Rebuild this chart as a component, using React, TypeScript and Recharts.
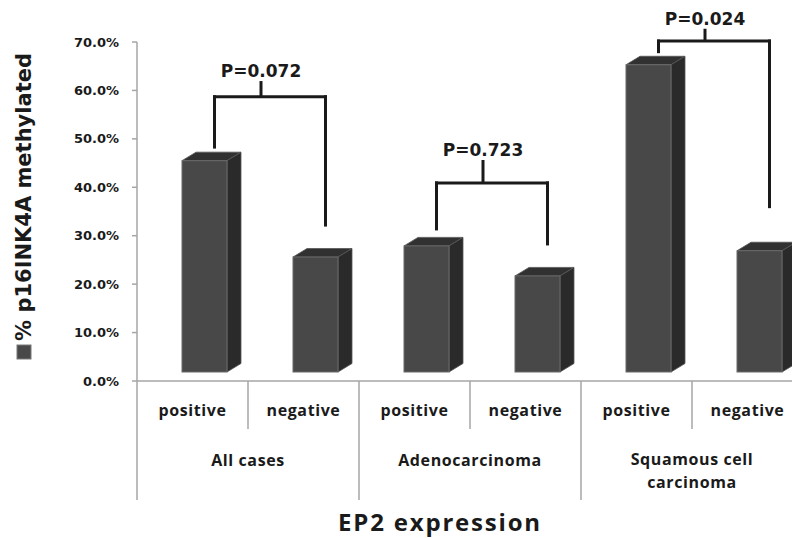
import React from "react";
import { Bar, BarChart, ReferenceLine, XAxis, YAxis } from "recharts";

// values
const groups = ["All cases", "Adenocarcinoma", "Squamous cell\ncarcinoma"];
const expression = ["positive", "negative"];
const methylated = [0.455, 0.256, 0.279, 0.217, 0.653, 0.269];
const yTicks = [0, 0.1, 0.2, 0.3, 0.4, 0.5, 0.6, 0.7];

// p-value brackets, one per group
const pValues = ["P=0.072", "P=0.723", "P=0.024"];
const bracketTop = [0.587, 0.409, 0.702];
const bracketLabel = [0.64, 0.477, 0.748];
const posLegEnd = [0.483, 0.314, 0.68];
const negLegEnd = [0.322, 0.283, 0.36];

const data = groups.flatMap((g, gi) =>
  expression.map((e, ei) => ({
    id: `${gi}-${e}`,
    group: g,
    expression: e,
    value: methylated[gi * 2 + ei],
  }))
);

const CHART_W = 820;
const CHART_H = 538;
const MARGIN = { top: 42, right: 17, bottom: 0, left: 0 };
const Y_AXIS_W = 137;
const BAND = (CHART_W - MARGIN.left - MARGIN.right - Y_AXIS_W) / data.length;

const AXIS = "#a6a6a6";
const INK = "#1a1a1a";
const BRACKET_SHIFT = 22;

const catFont = { fontFamily: "'Open Sans', sans-serif", fontWeight: 700, fill: INK };

function Bar3D({ x, y, width, height }: any) {
  const dx = 14;
  const dy = 8.5;
  const fx = x + 12;
  const fb = y + height - 9;
  const w = width;
  return (
    <g>
      <polygon
        points={`${fx},${y} ${fx + dx},${y - dy} ${fx + w + dx},${y - dy} ${fx + w},${y}`}
        fill="#313131"
        stroke="#555"
        strokeWidth={0.8}
      />
      <polygon
        points={`${fx + w},${y} ${fx + w + dx},${y - dy} ${fx + w + dx},${fb - dy} ${fx + w},${fb}`}
        fill="#2a2a2a"
        stroke="#555"
        strokeWidth={0.8}
      />
      <rect x={fx} y={y} width={w} height={fb - y} fill="#484848" stroke="#6a6a6a" strokeWidth={1} />
    </g>
  );
}

function CategoryTick({ x, y, payload }: any) {
  const index = data.findIndex((d) => d.id === payload.value);
  const row = data[index];
  const half = BAND / 2;
  const groupEnd = index % 2 === 1;
  const lines = row.group.split("\n");
  return (
    <g>
      {index === 0 && <line x1={x - half} y1={y} x2={x - half} y2={y + 119} stroke={AXIS} strokeWidth={1.5} />}
      <line x1={x + half} y1={y} x2={x + half} y2={y + (groupEnd ? 119 : 48)} stroke={AXIS} strokeWidth={1.5} />
      <text x={x} y={y + 35} textAnchor="middle" fontSize={16} letterSpacing={0.6} {...catFont}>
        {row.expression}
      </text>
      {groupEnd &&
        lines.map((line: string, li: number) => (
          <text
            key={li}
            x={x - half}
            y={y + (lines.length > 1 ? 84 + li * 23 : 85)}
            textAnchor="middle"
            fontSize={16}
            letterSpacing={0.6}
            {...catFont}
          >
            {line}
          </text>
        ))}
    </g>
  );
}

function YTitle({ viewBox }: any) {
  const cx = viewBox.x + 24;
  return (
    <g>
      <rect x={cx - 7} y={345} width={14} height={14} fill="#484848" stroke="#7a7a7a" />
      <text
        x={cx}
        y={197}
        transform={`rotate(-90 ${cx} 197)`}
        textAnchor="middle"
        dominantBaseline="central"
        fontFamily="'DejaVu Sans', sans-serif"
        fontWeight={700}
        fontSize={21}
        fill={INK}
      >
        % p16INK4A methylated
      </text>
    </g>
  );
}

function XTitle({ viewBox }: any) {
  return (
    <text
      x={440}
      y={viewBox.y + 150}
      textAnchor="middle"
      fontFamily="'Open Sans', sans-serif"
      fontWeight={700}
      fontSize={24}
      letterSpacing={1.8}
      fill={INK}
    >
      EP2 expression
    </text>
  );
}

const Leg = ({ x1, y1, x2, y2 }: any) => (
  <line
    x1={x1 + BRACKET_SHIFT}
    y1={y1}
    x2={x2 + BRACKET_SHIFT}
    y2={y2}
    stroke={INK}
    strokeWidth={3}
    strokeLinecap="square"
  />
);

const PLabel = ({ x1, y1, x2, y2, text }: any) => {
  const xm = (x1 + x2) / 2 + BRACKET_SHIFT - 9;
  return (
    <g>
      <line x1={xm} y1={y1 + 10} x2={xm} y2={y2} stroke={INK} strokeWidth={3} />
      <text
        x={xm}
        y={y1}
        textAnchor="middle"
        dominantBaseline="central"
        fontFamily="'DejaVu Sans', sans-serif"
        fontWeight={700}
        fontSize={17}
        fill={INK}
      >
        {text}
      </text>
    </g>
  );
};

export default function App() {
  return (
    <div
      style={{
        position: "absolute",
        left: 0,
        top: 0,
        width: 792,
        height: 538,
        overflow: "hidden",
        background: "#fff",
      }}
    >
      <BarChart width={CHART_W} height={CHART_H} data={data} margin={MARGIN}>
        <YAxis
          width={Y_AXIS_W}
          domain={[0, 0.7]}
          ticks={yTicks}
          allowDataOverflow
          tickFormatter={(v) => `${(v * 100).toFixed(1)}%`}
          tick={{ fill: INK, fontSize: 13, fontFamily: "'DejaVu Sans', sans-serif", fontWeight: 700 }}
          tickSize={5}
          tickMargin={13}
          stroke={AXIS}
          strokeWidth={1.5}
          label={{ content: YTitle }}
        />
        <XAxis
          dataKey="id"
          interval={0}
          height={157}
          tickLine={false}
          tickSize={0}
          tickMargin={0}
          stroke={AXIS}
          strokeWidth={1.5}
          tick={CategoryTick}
          label={{ content: XTitle }}
        />
        <Bar dataKey="value" barSize={45} shape={Bar3D} isAnimationActive={false} />
        {pValues.map((p, i) => {
          const pos = data[i * 2].id;
          const neg = data[i * 2 + 1].id;
          return [
            <ReferenceLine
              key={`h${i}`}
              ifOverflow="visible"
              segment={[{ x: pos, y: bracketTop[i] }, { x: neg, y: bracketTop[i] }]}
              shape={Leg}
            />,
            <ReferenceLine
              key={`l${i}`}
              ifOverflow="visible"
              segment={[{ x: pos, y: bracketTop[i] }, { x: pos, y: posLegEnd[i] }]}
              shape={Leg}
            />,
            <ReferenceLine
              key={`r${i}`}
              ifOverflow="visible"
              segment={[{ x: neg, y: bracketTop[i] }, { x: neg, y: negLegEnd[i] }]}
              shape={Leg}
            />,
            <ReferenceLine
              key={`p${i}`}
              ifOverflow="visible"
              segment={[{ x: pos, y: bracketLabel[i] }, { x: neg, y: bracketTop[i] }]}
              shape={(props: any) => <PLabel {...props} text={p} />}
            />,
          ];
        })}
      </BarChart>
    </div>
  );
}
